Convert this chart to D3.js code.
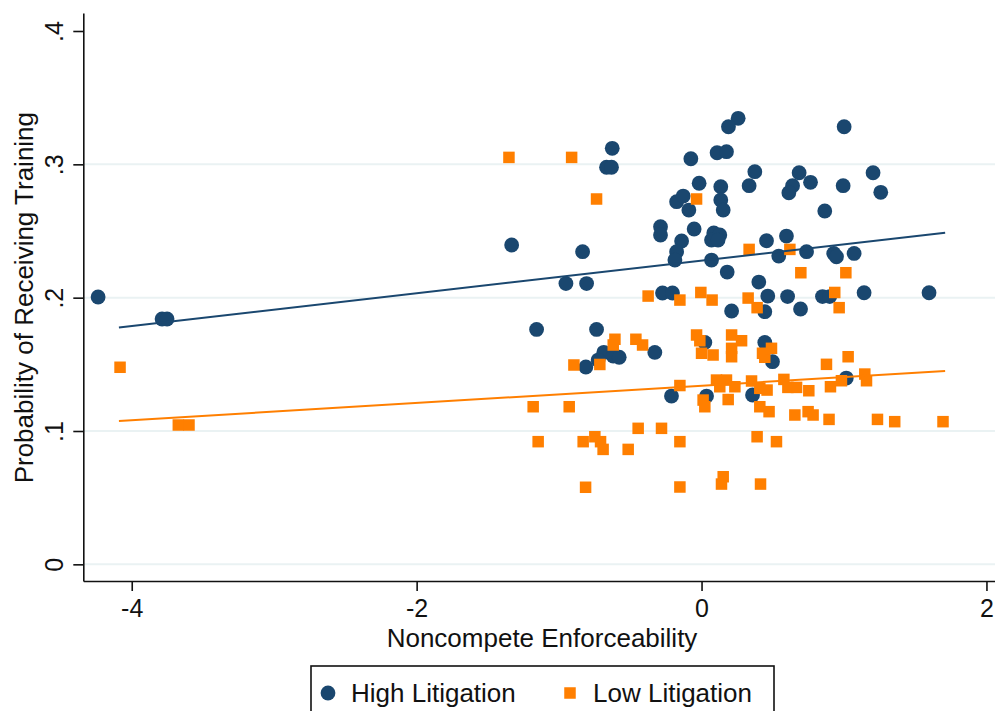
<!DOCTYPE html>
<html>
<head>
<meta charset="utf-8">
<script src="https://cdn.jsdelivr.net/npm/d3@7"></script>
<style>
  body { margin: 0; background: #fff; }
  svg { display: block; font-family: "Liberation Sans", Arial, Helvetica, sans-serif; }
</style>
</head>
<body>
<div id="chart"></div>
<script>
// Values
const highX = [-4.236, -3.787, -3.752, -1.333, -1.158, -0.952, -0.807, -0.835, -0.812, -0.737,
    -0.627, -0.667, -0.632, -0.686, -0.726, -0.620, -0.578, -0.328, -0.274, -0.204,
    -0.211, -0.288, -0.288, -0.175, -0.129, -0.089, -0.075, -0.017, -0.052, -0.140,
    -0.175, -0.187, 0.070, 0.180, 0.086, 0.128, 0.070, 0.116, 0.135, 0.135,
    0.152, 0.109, 0.175, 0.257, 0.189, 0.374, 0.334, 0.402, 0.456, 0.596,
    0.542, 0.465, 0.604, 0.639, 0.613, 0.685, 0.765, 0.737, 0.865, 0.849,
    0.900, 0.928, 0.947, 0.994, 1.001, 1.071, 1.141, 1.204, 1.258, 1.597,
    0.211, 0.444, 0.695, 0.023, 0.444, 0.498, 0.035, 0.358, 1.016];
const highY = [0.2005, 0.184, 0.184, 0.2395, 0.1762, 0.2106, 0.2106, 0.2345, 0.148, 0.1762,
    0.312, 0.2978, 0.2978, 0.159, 0.1532, 0.1562, 0.1553, 0.1589, 0.2035, 0.2035,
    0.1262, 0.2532, 0.247, 0.272, 0.2762, 0.2657, 0.3042, 0.2858, 0.2515, 0.2425,
    0.2345, 0.2282, 0.2282, 0.2192, 0.2485, 0.247, 0.2432, 0.2432, 0.2832, 0.2732,
    0.2657, 0.3087, 0.3095, 0.3345, 0.3282, 0.2945, 0.284, 0.2117, 0.2427, 0.2462,
    0.2312, 0.2012, 0.2008, 0.284, 0.2787, 0.2937, 0.2865, 0.2345, 0.265, 0.2008,
    0.2008, 0.2332, 0.2307, 0.284, 0.3282, 0.2332, 0.2037, 0.2937, 0.279, 0.2037,
    0.19, 0.1895, 0.1915, 0.1664, 0.1664, 0.152, 0.1262, 0.127, 0.1397];

const lowX = [-4.082, -3.673, -3.598, -1.352, -0.912, -0.737, -1.182, -1.147, -0.929, -0.896,
    -0.831, -0.814, -0.749, -0.709, -0.691, -0.714, -0.608, -0.620, -0.461, -0.414,
    -0.515, -0.445, -0.375, -0.281, -0.152, -0.152, -0.152, -0.152, -0.035, -0.005,
    0.074, -0.035, -0.012, 0.000, 0.081, 0.105, 0.175, 0.128, 0.011, 0.023,
    0.187, 0.211, 0.281, 0.211, 0.211, 0.234, 0.152, 0.140, 0.327, 0.334,
    0.390, 0.428, 0.444, 0.491, 0.351, 0.409, 0.460, 0.409, 0.474, 0.390,
    0.526, 0.414, 0.620, 0.578, 0.606, 0.667, 0.753, 0.655, 0.748, 0.783,
    0.697, 0.877, 0.905, 0.895, 0.935, 0.966, 0.982, 1.013, 1.029, 1.146,
    1.158, 1.235, 1.356, 1.695];
const lowY = [0.1478, 0.1045, 0.1045, 0.3052, 0.3052, 0.274, 0.1182, 0.092, 0.1182, 0.1495,
    0.092, 0.0578, 0.0957, 0.092, 0.0862, 0.1499, 0.1688, 0.1645, 0.1688, 0.1645,
    0.0862, 0.102, 0.2012, 0.102, 0.1982, 0.1341, 0.092, 0.058, 0.274, 0.2039,
    0.1982, 0.172, 0.1677, 0.1583, 0.157, 0.1382, 0.1382, 0.1332, 0.1232, 0.1182,
    0.1236, 0.172, 0.1677, 0.162, 0.1557, 0.1332, 0.0657, 0.0602, 0.1997, 0.2362,
    0.1925, 0.1583, 0.1553, 0.162, 0.1375, 0.132, 0.1307, 0.1182, 0.1145, 0.0957,
    0.092, 0.0602, 0.2362, 0.1387, 0.1327, 0.1327, 0.1302, 0.112, 0.1145, 0.112,
    0.2187, 0.15, 0.1332, 0.1087, 0.2039, 0.1925, 0.1377, 0.2187, 0.1557, 0.1427,
    0.1377, 0.1087, 0.107, 0.107];

// fitted lines (end points)
const fitX = [-4.09, 1.71];
const fitHighY = [0.1777, 0.2487];
const fitLowY = [0.1075, 0.1450];

const xTicks = [-4, -2, 0, 2];
const yTicks = [0, 0.1, 0.2, 0.3, 0.4];
const yTickLabels = ['0', '.1', '.2', '.3', '.4'];
const gridTicks = [0, 0.1, 0.2, 0.3];

const seriesNames = ['High Litigation', 'Low Litigation'];
const navy = '#1a476f';
const orange = '#ff7f00';

const width = 995, height = 711;
const plotLeft = 83.3, plotRight = 995, plotTop = 13, plotBottom = 581;

const x = d3.scaleLinear().domain([-4.34, 2.06]).range([plotLeft, plotRight]);
const y = d3.scaleLinear().domain([-0.0125, 0.4135]).range([plotBottom, plotTop]);

const svg = d3.select('#chart').append('svg')
    .attr('width', width)
    .attr('height', height);

svg.append('rect').attr('width', width).attr('height', height).attr('fill', '#fff');

// grid lines
svg.append('g').selectAll('line')
    .data(gridTicks)
    .enter()
    .append('line')
    .attr('x1', plotLeft)
    .attr('x2', plotRight)
    .attr('y1', (d) => y(d))
    .attr('y2', (d) => y(d))
    .attr('stroke', '#eaf2f3')
    .attr('stroke-width', 2);

// x axis
const gx = svg.append('g')
    .attr('transform', `translate(0,${plotBottom})`)
    .call(d3.axisBottom(x).tickValues(xTicks).tickSize(10).tickSizeOuter(0)
        .tickFormat((d) => String(d)));
gx.select('.domain').attr('stroke', '#111').attr('stroke-width', 1.6);
gx.selectAll('.tick line').attr('stroke', '#111').attr('stroke-width', 1.6);
gx.selectAll('.tick text')
    .attr('y', 36)
    .attr('dy', null)
    .attr('fill', '#111')
    .style('font-size', '25px');

// y axis
const gy = svg.append('g')
    .attr('transform', `translate(${plotLeft},0)`)
    .call(d3.axisLeft(y).tickValues(yTicks).tickSize(10).tickSizeOuter(0)
        .tickFormat((d, i) => yTickLabels[i]));
gy.select('.domain').attr('stroke', '#111').attr('stroke-width', 1.6);
gy.selectAll('.tick line').attr('stroke', '#111').attr('stroke-width', 1.6);
gy.selectAll('.tick text')
    .attr('x', null)
    .attr('dy', null)
    .attr('transform', 'translate(-20,0) rotate(-90)')
    .attr('text-anchor', 'middle')
    .attr('fill', '#111')
    .style('font-size', '25px');

// axis titles
svg.append('text')
    .attr('x', 542)
    .attr('y', 647)
    .attr('text-anchor', 'middle')
    .attr('fill', '#111')
    .style('font-size', '26px')
    .text('Noncompete Enforceability');

svg.append('text')
    .attr('transform', `translate(33,${y(0.2)}) rotate(-90)`)
    .attr('text-anchor', 'middle')
    .attr('fill', '#111')
    .style('font-size', '26px')
    .text('Probability of Receiving Training');

// scatter points
svg.append('g').selectAll('circle')
    .data(d3.zip(highX, highY))
    .enter()
    .append('circle')
    .attr('cx', (d) => x(d[0]))
    .attr('cy', (d) => y(d[1]))
    .attr('r', 7.4)
    .attr('fill', navy);

const sq = 11.5;
svg.append('g').selectAll('rect')
    .data(d3.zip(lowX, lowY))
    .enter()
    .append('rect')
    .attr('x', (d) => x(d[0]) - sq / 2)
    .attr('y', (d) => y(d[1]) - sq / 2)
    .attr('width', sq)
    .attr('height', sq)
    .attr('fill', orange);

// fit lines
const line = d3.line().x((d) => x(d[0])).y((d) => y(d[1]));
svg.append('path')
    .attr('d', line(d3.zip(fitX, fitHighY)))
    .attr('fill', 'none')
    .attr('stroke', navy)
    .attr('stroke-width', 2);
svg.append('path')
    .attr('d', line(d3.zip(fitX, fitLowY)))
    .attr('fill', 'none')
    .attr('stroke', orange)
    .attr('stroke-width', 2);

// legend
const legend = svg.append('g');
legend.append('rect')
    .attr('x', 311)
    .attr('y', 666)
    .attr('width', 463)
    .attr('height', 80)
    .attr('fill', '#fff')
    .attr('stroke', '#111')
    .attr('stroke-width', 1.6);
legend.append('circle')
    .attr('cx', 328)
    .attr('cy', 693)
    .attr('r', 7.4)
    .attr('fill', navy);
legend.append('rect')
    .attr('x', 570 - sq / 2)
    .attr('y', 693 - sq / 2)
    .attr('width', sq)
    .attr('height', sq)
    .attr('fill', orange);
legend.selectAll('text')
    .data(seriesNames)
    .enter()
    .append('text')
    .attr('x', (d, i) => (i === 0 ? 351 : 593))
    .attr('y', 702)
    .attr('fill', '#111')
    .style('font-size', '26px')
    .text((d) => d);
</script>
</body>
</html>
